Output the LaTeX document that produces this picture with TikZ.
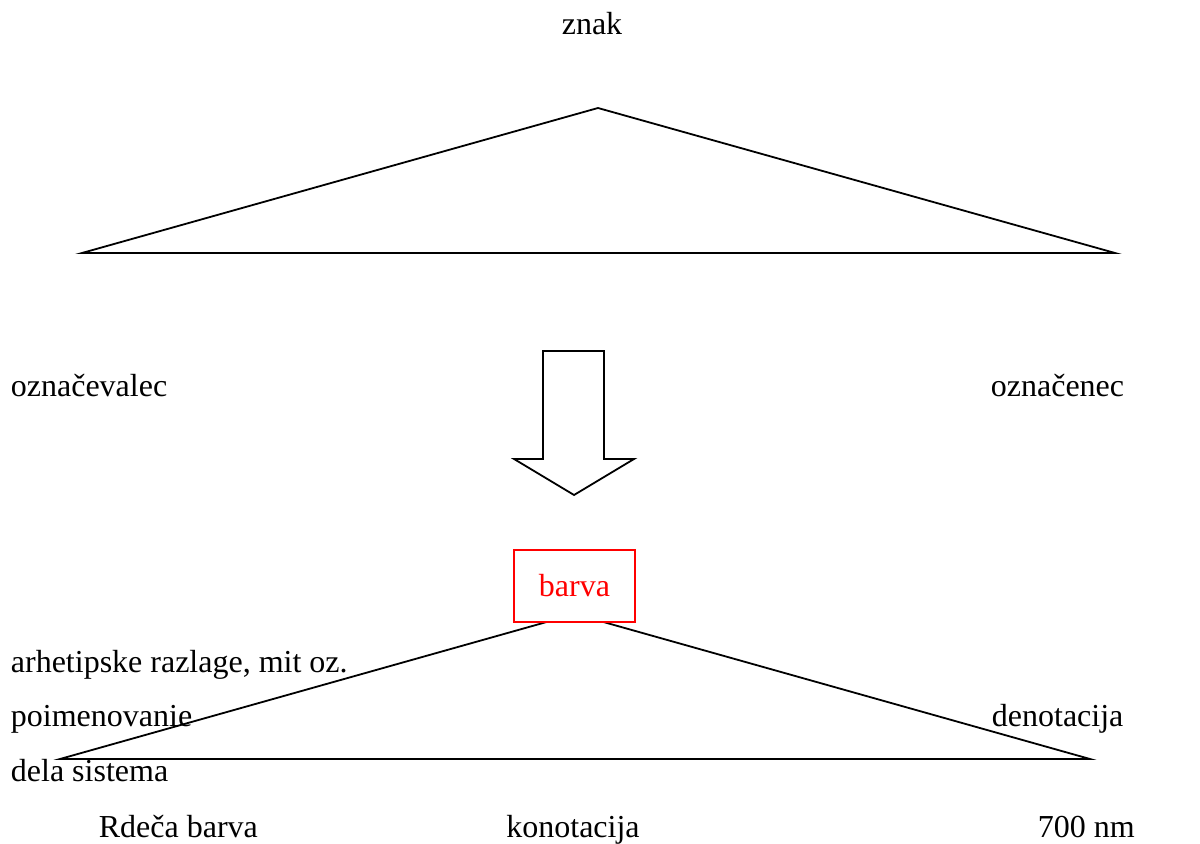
\documentclass[tikz,border=0pt]{standalone}
\usepackage{fontspec}
\setmainfont{Liberation Serif}
\usepackage{xcolor}
\usepackage{tikz}

\begin{document}
\begin{tikzpicture}[x=0.5pt,y=-0.5pt,line width=0.9pt,
  lbl/.style={inner sep=0pt,font=\fontsize{16}{19}\selectfont}]
\def\fs{16};
\def\hb{27}; %half of the head%
\useasboundingbox (0,0) rectangle (1200,844);
\coordinate (T) at (598,108);
\coordinate (TL) at (82,253);
\coordinate (TR) at (1115,253);
\coordinate (B) at (575,614);
\coordinate (BL) at (60,759);
\coordinate (BR) at (1090,759);

\draw (T) -- (TL) -- (TR) -- cycle; %upper triangle%
\draw (B) -- (BL) -- (BR) -- cycle; %lower triangle%

% big arrow down
\draw (543,351) -- (604,351) -- (604,459) -- (634,459) -- (574,495)
  -- (514,459) -- (543,459) -- cycle;

\node[lbl,draw=red,text=red,fill=white,line width=0.9pt,minimum width=60.5pt,
  minimum height=36pt] (barva) at (574.5,586) {barva};

\node[lbl,anchor=base] (znak) at (592,35) {znak};
\node[lbl,anchor=base west] (oznacevalec) at (10,397) {označevalec};
\node[lbl,anchor=base west] (oznacenec) at (990,397) {označenec};
\node[lbl,anchor=base west] (arhet) at (10,672) {arhetipske razlage, mit oz.};
\node[lbl,anchor=base west] (poimen) at (10,726) {poimenovanie};
\node[lbl,anchor=base west] (dela) at (10,781) {dela sistema};
\node[lbl,anchor=base west] (denot) at (991,726) {denotacija};
\node[lbl,anchor=base west] (rdeca) at (98,837) {Rdeča barva};
\node[lbl,anchor=base] (konot) at (573,837) {konotacija};
\node[lbl,anchor=base west] (nm) at (1037,837) {700 nm};
\end{tikzpicture}
\end{document}
